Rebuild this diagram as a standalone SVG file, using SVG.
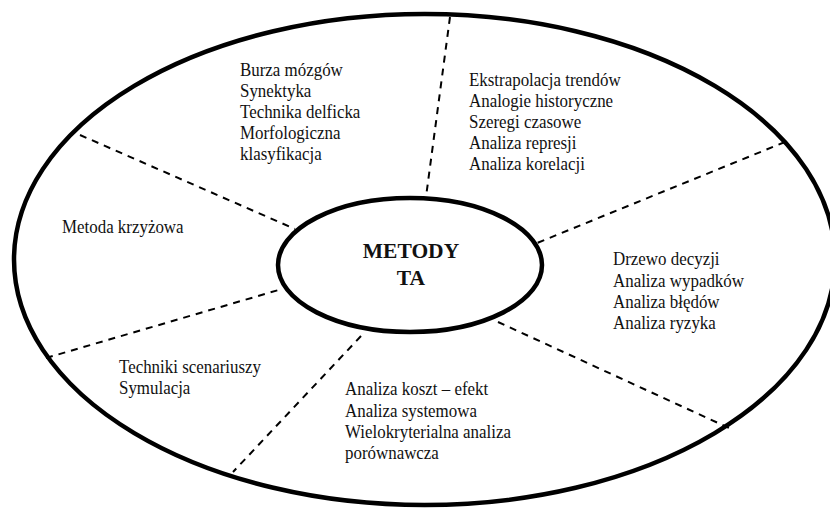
<svg xmlns="http://www.w3.org/2000/svg" width="830" height="508" viewBox="0 0 830 508">
<style>
.frame{fill:none;stroke:#000;stroke-width:4.5}
.hub{fill:#fff;stroke:#000;stroke-width:4.5}
.dash{stroke:#000;stroke-width:2;stroke-dasharray:7 6;fill:none}
.t{font-family:"Liberation Serif","Times New Roman",serif;font-size:18px;fill:#111}
.c{font-family:"Liberation Serif","Times New Roman",serif;font-size:21.5px;font-weight:bold;fill:#111;text-anchor:middle}
</style>
<rect width="830" height="508" fill="#fff"/>
<g id="outer">
<ellipse class="frame" cx="424.5" cy="259.5" rx="410.5" ry="245.5"/>
</g>
<g id="connectors">
<line class="dash" x1="450" y1="17" x2="426" y2="197"/>
<line class="dash" x1="80" y1="135" x2="295" y2="229"/>
<line class="dash" x1="785" y1="142" x2="537" y2="243"/>
<line class="dash" x1="46" y1="358" x2="282" y2="289"/>
<line class="dash" x1="498" y1="322" x2="729" y2="428"/>
<line class="dash" x1="361" y1="336" x2="233" y2="472"/>
</g>
<g id="center">
<ellipse class="hub" cx="410" cy="265" rx="132" ry="67"/>
<text class="c" x="411" y="258">METODY</text>
<text class="c" x="411" y="285">TA</text>
</g>
<g id="intuitive" transform="translate(240 0) scale(0.94 1)">
<text class="t" x="0" y="76">Burza mózgów</text>
<text class="t" x="0" y="97">Synektyka</text>
<text class="t" x="0" y="118">Technika delficka</text>
<text class="t" x="0" y="139">Morfologiczna</text>
<text class="t" x="0" y="160">klasyfikacja</text>
</g>
<g id="extrapolative" transform="translate(469 0) scale(0.94 1)">
<text class="t" x="0" y="86">Ekstrapolacja trendów</text>
<text class="t" x="0" y="107">Analogie historyczne</text>
<text class="t" x="0" y="128">Szeregi czasowe</text>
<text class="t" x="0" y="149">Analiza represji</text>
<text class="t" x="0" y="170">Analiza korelacji</text>
</g>
<g id="cross" transform="translate(62 0) scale(0.94 1)">
<text class="t" x="0" y="233">Metoda krzyżowa</text>
</g>
<g id="risk" transform="translate(613 0) scale(0.94 1)">
<text class="t" x="0" y="265">Drzewo decyzji</text>
<text class="t" x="0" y="287">Analiza wypadków</text>
<text class="t" x="0" y="308">Analiza błędów</text>
<text class="t" x="0" y="329">Analiza ryzyka</text>
</g>
<g id="scenario" transform="translate(119 0) scale(0.94 1)">
<text class="t" x="0" y="373">Techniki scenariuszy</text>
<text class="t" x="0" y="394">Symulacja</text>
</g>
<g id="systemic" transform="translate(345 0) scale(0.94 1)">
<text class="t" x="0" y="395">Analiza koszt – efekt</text>
<text class="t" x="0" y="417">Analiza systemowa</text>
<text class="t" x="0" y="438">Wielokryterialna analiza</text>
<text class="t" x="0" y="459">porównawcza</text>
</g>
</svg>
